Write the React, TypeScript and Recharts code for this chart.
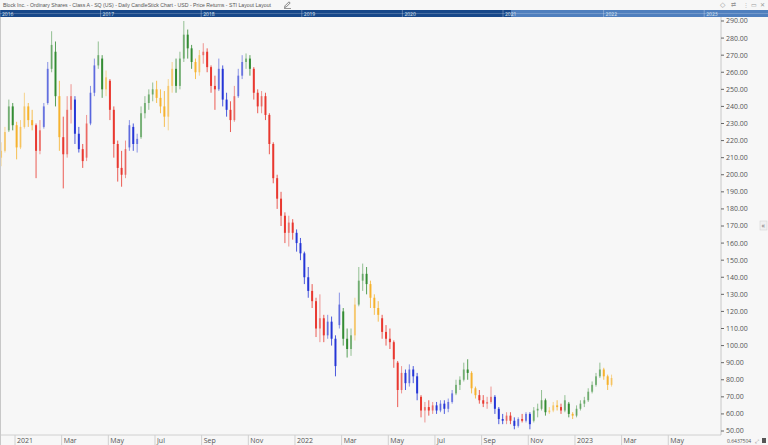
import React from 'react'
import { ComposedChart, Bar, XAxis, YAxis } from 'recharts'

const title =
  'Block Inc. - Ordinary Shares - Class A - SQ (US) - Daily CandleStick Chart - USD - Price Returns - STI Layout Layout'

// one candle every ~3.5 trading days
const opens = [
  210, 214, 226, 240, 229, 216, 228, 240, 232, 229, 214, 228, 242, 262, 272, 246, 222, 212, 238, 244,
  224, 215, 210, 230, 248, 264, 268, 250, 255, 238, 218, 204, 200, 216, 228, 218, 222, 236, 242, 247,
  250, 245, 240, 234, 252, 262, 252, 268, 282, 274, 266, 260, 270, 272, 263, 252, 250, 262, 244, 238,
  232, 246, 258, 266, 268, 262, 248, 240, 246, 235, 218, 198, 186, 176, 166, 172, 166, 160, 154, 140,
  132, 126, 110, 116, 106, 114, 104, 112, 120, 104, 98, 106, 124, 138, 142, 136, 128, 122, 116, 108,
  104, 102, 90, 74, 84, 78, 86, 82, 70, 62, 64, 62, 65, 62, 66, 63, 67, 72, 77, 80,
  86, 84, 75, 71, 68, 66, 67, 70, 63, 57, 56, 59, 56, 53, 57, 56, 60, 56, 62, 63,
  68, 61, 62, 65, 64, 62, 66, 60, 59, 63, 66, 68, 73, 77, 82, 86, 82, 77,
]
const highs = [
  219, 228, 244, 242, 231, 232, 248, 242, 238, 230, 232, 242, 266, 284, 278, 255, 234, 246, 253, 246,
  228, 218, 235, 252, 268, 278, 270, 261, 256, 240, 220, 214, 220, 232, 230, 224, 240, 246, 250, 254,
  255, 250, 249, 256, 266, 268, 272, 290, 285, 276, 268, 273, 277, 274, 264, 258, 268, 264, 248, 243,
  252, 262, 270, 271, 270, 263, 250, 249, 248, 236, 219, 200, 190, 178, 176, 174, 168, 163, 155, 146,
  136, 128, 130, 118, 118, 117, 106, 131, 122, 110, 110, 128, 146, 148, 146, 138, 130, 126, 118, 112,
  110, 103, 91, 88, 86, 89, 88, 84, 71, 67, 68, 67, 67, 68, 68, 69, 74, 80, 82, 90,
  92, 85, 76, 74, 71, 70, 76, 71, 64, 60, 61, 61, 58, 58, 60, 61, 61, 64, 66, 74,
  69, 64, 67, 68, 66, 71, 67, 61, 65, 68, 70, 75, 79, 84, 90, 87, 83, 83,
]
const lows = [
  205, 213, 225, 226, 209, 215, 227, 228, 226, 198, 212, 227, 241, 260, 240, 214, 192, 210, 230, 218,
  213, 204, 208, 229, 246, 262, 245, 246, 232, 210, 196, 193, 198, 214, 214, 213, 221, 233, 238, 243,
  242, 236, 228, 226, 248, 248, 250, 266, 268, 262, 256, 258, 265, 260, 248, 238, 249, 240, 234, 225,
  231, 245, 256, 262, 258, 244, 236, 236, 232, 212, 195, 180, 170, 160, 158, 162, 155, 150, 136, 128,
  122, 105, 102, 102, 104, 100, 82, 110, 100, 93, 94, 103, 123, 132, 130, 122, 118, 114, 104, 100,
  98, 87, 64, 72, 74, 76, 78, 68, 58, 55, 59, 60, 60, 61, 60, 61, 66, 71, 74, 79,
  80, 72, 69, 66, 64, 63, 66, 60, 54, 54, 54, 54, 51, 52, 55, 55, 51, 55, 58, 62,
  59, 60, 61, 62, 60, 61, 58, 57, 58, 62, 64, 67, 72, 76, 81, 80, 74, 76,
]
const closes = [
  214, 225, 240, 229, 216, 228, 240, 232, 229, 214, 226, 240, 262, 276, 246, 222, 212, 238, 246, 224,
  215, 208, 230, 248, 264, 270, 250, 257, 238, 218, 204, 200, 215, 229, 218, 221, 236, 242, 247, 250,
  245, 240, 234, 252, 262, 252, 268, 282, 274, 266, 260, 270, 272, 263, 252, 250, 262, 244, 238, 232,
  246, 258, 266, 268, 262, 248, 240, 246, 235, 218, 198, 186, 176, 166, 172, 166, 160, 154, 140, 132,
  126, 110, 116, 106, 114, 104, 88, 124, 104, 98, 106, 124, 138, 142, 136, 128, 122, 118, 108, 104,
  102, 92, 74, 84, 78, 86, 82, 72, 62, 64, 62, 65, 62, 66, 63, 67, 72, 77, 80, 86,
  84, 75, 71, 68, 66, 67, 70, 63, 57, 56, 59, 56, 53, 57, 56, 60, 54, 62, 63, 68,
  61, 62, 65, 64, 62, 68, 60, 59, 63, 66, 68, 73, 77, 82, 86, 82, 77, 81,
]
// return regime of each candle: o = orange, g = green, r = red, b = blue
const regime = (
  'oo gg ooooo rr bb gg o rrr bb rr bb gg o rrrrr bbb gggg ooooo ggggg oo rrrr bbb rr bb gg ' +
  'rrrrrrrrrrr bbbb rrrr bbbb ggg o ggg ooo rrrrrr bbbb rrrr bbbbb gggg oo rrrr bbb rr bb r bb ' +
  'gggg ooo r gg o ggggggg ooo'
).replace(/ /g, '')

const monthTicks = [0, 2, 4, 6, 8, 10, 12, 14, 16, 18, 20, 22, 24, 26, 28]
const monthLabels = ['2021', 'Mar', 'May', 'Jul', 'Sep', 'Nov', '2022', 'Mar', 'May', 'Jul', 'Sep', 'Nov', '2023', 'Mar', 'May']
const priceTicks = [50, 60, 70, 80, 90, 100, 110, 120, 130, 140, 150, 160, 170, 180, 190, 200, 210, 220, 230, 240, 250, 260, 270, 280, 290]
const navYears = ['2016', '2017', '2018', '2019', '2020', '2021', '2022', '2023']

const FIRST_MONTH = -0.6 // first candle sits in mid December 2020
const BARS_PER_MONTH = 6

const tones: Record<string, string> = {
  o: '#f5b12a',
  g: '#2f8a2f',
  r: '#e8342b',
  b: '#2233d6',
}

const data = opens.map((open, i) => ({
  m: FIRST_MONTH + i / BARS_PER_MONTH,
  open,
  high: highs[i],
  low: lows[i],
  close: closes[i],
  range: [lows[i], highs[i]],
  tone: regime[i],
}))

const FONT = '"Open Sans", "Noto Sans", sans-serif'
const NARROW = '"Liberation Sans Narrow", "Liberation Sans", sans-serif'

function Candle(props: any) {
  const { x, y, width, height, payload } = props
  if (!payload || height == null) return null
  const top = Math.min(y, y + height)
  const h = Math.abs(height)
  const ppu = h / Math.max(0.001, payload.high - payload.low)
  const bodyTop = top + (payload.high - Math.max(payload.open, payload.close)) * ppu
  const bodyBot = top + (payload.high - Math.min(payload.open, payload.close)) * ppu
  const up = payload.close >= payload.open
  const col = tones[payload.tone]
  const cx = x + width / 2
  return (
    <g>
      <line x1={cx} x2={cx} y1={top} y2={top + h} stroke={col} strokeWidth={1} strokeOpacity={up ? 0.5 : 0.8} />
      <rect x={x} y={bodyTop} width={width} height={Math.max(1, bodyBot - bodyTop)} fill={col} fillOpacity={up ? 0.5 : 0.95} />
    </g>
  )
}

function MonthTick(props: any) {
  const { x, y, payload } = props
  const idx = monthTicks.indexOf(payload.value)
  return (
    <g>
      <line x1={x} x2={x} y1={y} y2={y + 10} stroke="#d0d0d0" />
      <text x={x + 2} y={y + 8} fontSize={7} fill="#555" fontFamily={FONT}>
        {monthLabels[idx]}
      </text>
    </g>
  )
}

export default function App() {
  return (
    <div style={{ position: 'absolute', left: 0, top: 0, width: 768, height: 445, background: '#f7f7f7', overflow: 'hidden' }}>
      <div style={{ position: 'absolute', left: 0, top: 17 }}>
        <ComposedChart width={768} height={428} data={data} margin={{ top: 0, right: 0, bottom: 0, left: 0 }}>
          <XAxis
            dataKey="m"
            type="number"
            domain={[-0.643, 30.26]}
            ticks={monthTicks}
            allowDataOverflow
            height={10}
            tickSize={0}
            tickMargin={0}
            tick={<MonthTick />}
            axisLine={{ stroke: '#d0d0d0' }}
            interval={0}
          />
          <YAxis
            orientation="right"
            type="number"
            domain={[47.66, 292.34]}
            ticks={priceTicks}
            allowDataOverflow
            width={47}
            tickSize={3}
            tickMargin={2}
            tick={{ fontSize: 7, fill: '#555', fontFamily: FONT }}
            tickLine={{ stroke: '#666' }}
            axisLine={{ stroke: '#c8c8c8' }}
            tickFormatter={(v: number) => v.toFixed(2)}
            interval={0}
          />
          <Bar dataKey="range" barSize={2} shape={<Candle />} isAnimationActive={false} />
        </ComposedChart>
      </div>
      <svg width={768} height={445} style={{ position: 'absolute', left: 0, top: 0, pointerEvents: 'none' }}>
        <text x={3} y={7} fontSize={5.6} fill="#555" fontFamily={NARROW} textLength={268} lengthAdjust="spacingAndGlyphs">
          {title}
        </text>
        {/* pencil icon */}
        <path d="M284.5 7.5 L285 5.8 L289 1.8 L290.2 3 L286.2 7 Z" fill="none" stroke="#555" strokeWidth={0.7} />
        <line x1={284} x2={291} y1={8.5} y2={8.5} stroke="#555" strokeWidth={0.6} />
        <text x={720} y={7} fontSize={7} fill="#999" fontFamily={FONT}>
          ◇
        </text>
        <text x={731} y={7} fontSize={6} fill="#999" fontFamily={FONT}>
          ⇄
        </text>
        <text x={743} y={7} fontSize={6} fill="#bbb" fontFamily={FONT}>
          ⋮
        </text>
        <text x={751} y={7} fontSize={6} fill="#999" fontFamily={FONT}>
          ▭
        </text>
        <text x={760} y={7} fontSize={6} fill="#999" fontFamily={FONT}>
          ✕
        </text>
        <rect x={0} y={10} width={768} height={7} fill="#17488a" />
        <rect x={511} y={10} width={257} height={7} fill="#4f7fbe" />
        <line x1={0} x2={768} y1={13.5} y2={13.5} stroke="#ffffff" strokeOpacity={0.35} strokeWidth={0.6} />
        {navYears.map((yr, k) => (
          <g key={yr}>
            <line x1={k * 100.6} x2={k * 100.6} y1={10} y2={17} stroke="#ffffff" strokeOpacity={0.3} />
            <text x={2 + k * 100.6} y={15.5} fontSize={5} fill="#dfe7f3" fontFamily={FONT}>
              {yr}
            </text>
          </g>
        ))}
        <line x1={0.5} x2={0.5} y1={17} y2={445} stroke="#c8c8c8" />
        <rect x={760} y={221} width={7} height={9} fill="#f0f0f0" stroke="#d0d0d0" strokeWidth={0.5} />
        <text x={761.5} y={228} fontSize={7} fill="#666" fontFamily={FONT}>
          «
        </text>
        <text x={727} y={443} fontSize={5} fill="#555" fontFamily={FONT}>
          0.6437504
        </text>
        <text x={755} y={443} fontSize={5} fill="#777" fontFamily={FONT}>
          ⤢
        </text>
        <rect x={762} y={438} width={4} height={5} fill="#555" />
      </svg>
    </div>
  )
}
